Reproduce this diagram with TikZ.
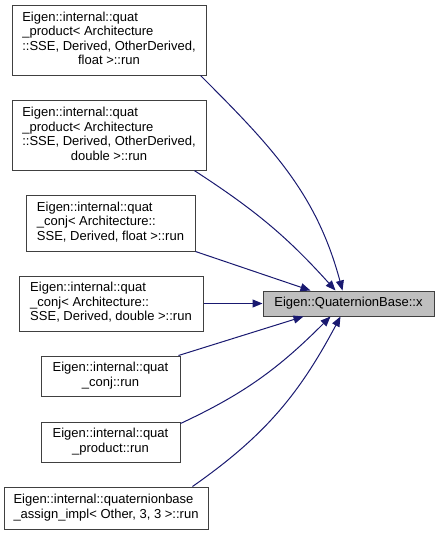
\documentclass[tikz,border=0pt]{standalone}
\usepackage{fontspec}
\setmainfont{Liberation Sans}
\usepackage{tikz}
\usetikzlibrary{arrows.meta,calc,positioning}
\definecolor{callblue}{HTML}{191970}
\definecolor{boxgray}{HTML}{404040}
\definecolor{hitgray}{HTML}{BFBFBF}
% left lines, last line centred
\newcommand{\fnlines}[2]{\begin{tabular}{@{}l@{}}#1\\\multicolumn{1}{@{}c@{}}{#2}\end{tabular}}

\begin{document}
\begin{tikzpicture}[
  x=0.75pt, y=-0.75pt,
  fn/.style={draw=boxgray, line width=0.75pt, fill=white, inner sep=0pt,
    font=\fontsize{9.75}{10.9}\selectfont},
  call/.style={draw=callblue, line width=0.75pt, -{Triangle[length=7.5pt,width=6pt]}}
]
\useasboundingbox (0,0) rectangle (440,533);
\node[fn, minimum width=145.5pt, minimum height=52.5pt] (prodf) at (109,40)
  {\fnlines{Eigen::internal::quat\\\_product< Architecture\\::SSE, Derived, OtherDerived,}{float >::run}};
\node[fn, minimum width=145.5pt, minimum height=52pt] (prodd) at (109,135.5)
  {\fnlines{Eigen::internal::quat\\\_product< Architecture\\::SSE, Derived, OtherDerived,}{double >::run}};
\node[fn, minimum width=126.75pt, minimum height=42pt] (conjf) at (110.5,223)
  {\fnlines{Eigen::internal::quat\\\_conj< Architecture::}{SSE, Derived, float >::run}};
\node[fn, minimum width=138pt, minimum height=41.25pt] (conjd) at (111,303.5)
  {\fnlines{Eigen::internal::quat\\\_conj< Architecture::}{SSE, Derived, double >::run}};
\node[fn, minimum width=104.25pt, minimum height=30pt] (conj) at (110.5,376)
  {\fnlines{Eigen::internal::quat}{\_conj::run}};
\node[fn, minimum width=104.25pt, minimum height=30pt] (prod) at (110.5,442)
  {\fnlines{Eigen::internal::quat}{\_product::run}};
\node[fn, minimum width=153pt, minimum height=31.5pt] (assign) at (106,508)
  {\fnlines{Eigen::internal::quaternionbase}{\_assign\_impl< Other, 3, 3 >::run}};
\node[fn, fill=hitgray, minimum width=128.25pt, minimum height=18.75pt] (qx) at (348.5,303.5)
  {Eigen::QuaternionBase::x};

\draw[call] ($(prodf.south east)+(-6,0)$) to[out=-45, in=105] ($(qx.north)+(-6,0)$);
\draw[call] ($(prodd.south east)+(-12,0)$) to[out=-33, in=132] ($(qx.north)+(-13,0)$);
\draw[call] (conjf.south east) -- ($(qx.north)+(-38,0)$);
\draw[call] (conjd.east) -- (qx.west);
\draw[call] ($(conj.north east)+(-2,0)$) -- ($(qx.south)+(-45,0)$);
\draw[call] ($(prod.north east)+(0,2)$) to[out=25, in=-135] ($(qx.south)+(-18,0)$);
\draw[call] ($(assign.north east)+(-16,0)$) to[out=35, in=-118] ($(qx.south)+(-8,0)$);
\end{tikzpicture}
\end{document}
